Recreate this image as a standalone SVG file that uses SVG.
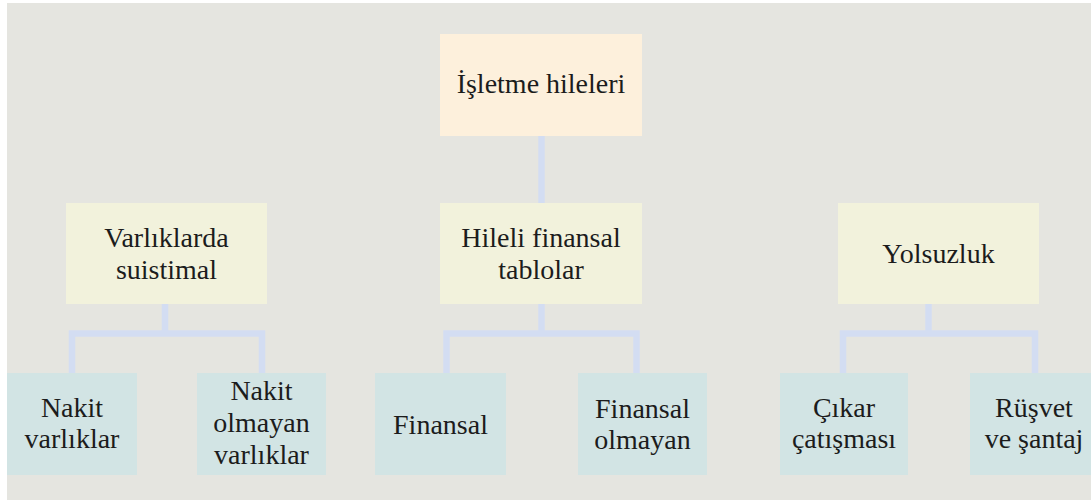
<svg xmlns="http://www.w3.org/2000/svg" width="1091" height="504" viewBox="0 0 1091 504">
  <defs>
    <style>
      .bg { fill: #e5e5e0; }
      .top { fill: #fdf0dc; }
      .mid { fill: #f2f2dc; }
      .bot { fill: #d2e4e4; }
      .conn { fill: none; stroke: #d3ddf2; stroke-width: 6.5; stroke-linejoin: miter; stroke-linecap: butt; }
      text { font-family: "Liberation Serif", "Times New Roman", serif; font-size: 28px; fill: #1c1c1c; text-anchor: middle; }
    </style>
  </defs>
  <rect x="0" y="0" width="1091" height="504" fill="#ffffff"/>
  <rect class="bg" x="7" y="3" width="1084" height="497"/>

  <g id="connectors">
    <path class="conn" d="M541.5,136 V203"/>
    <path class="conn" d="M165,304 V333.5 M72,373 V333.5 H262 V373"/>
    <path class="conn" d="M541.5,304 V333.5 M446.5,373 V333.5 H636.5 V373"/>
    <path class="conn" d="M928.5,304 V333.5 M843,373 V333.5 H1035 V373"/>
  </g>

  <g id="node-isletme-hileleri">
    <rect class="top" x="440" y="34" width="202" height="102"/>
    <text x="541" y="93">İşletme hileleri</text>
  </g>

  <g id="node-varliklarda-suistimal">
    <rect class="mid" x="66" y="203" width="201" height="101"/>
    <text x="166.5" y="247">Varlıklarda</text>
    <text x="166.5" y="279">suistimal</text>
  </g>

  <g id="node-hileli-finansal-tablolar">
    <rect class="mid" x="440" y="203" width="202" height="101"/>
    <text x="541" y="247">Hileli finansal</text>
    <text x="541" y="279">tablolar</text>
  </g>

  <g id="node-yolsuzluk">
    <rect class="mid" x="838" y="203" width="201" height="101"/>
    <text x="938.5" y="263">Yolsuzluk</text>
  </g>

  <g id="node-nakit-varliklar">
    <rect class="bot" x="7" y="373" width="130" height="102"/>
    <text x="72" y="417">Nakit</text>
    <text x="72" y="448">varlıklar</text>
  </g>

  <g id="node-nakit-olmayan-varliklar">
    <rect class="bot" x="197" y="373" width="129" height="102"/>
    <text x="261.5" y="400">Nakit</text>
    <text x="261.5" y="432">olmayan</text>
    <text x="261.5" y="464">varlıklar</text>
  </g>

  <g id="node-finansal">
    <rect class="bot" x="375" y="373" width="131" height="102"/>
    <text x="440.5" y="434">Finansal</text>
  </g>

  <g id="node-finansal-olmayan">
    <rect class="bot" x="578" y="373" width="129" height="102"/>
    <text x="642.5" y="418">Finansal</text>
    <text x="642.5" y="449">olmayan</text>
  </g>

  <g id="node-cikar-catismasi">
    <rect class="bot" x="780" y="373" width="128" height="102"/>
    <text x="844" y="417">Çıkar</text>
    <text x="844" y="448">çatışması</text>
  </g>

  <g id="node-rusvet-ve-santaj">
    <rect class="bot" x="970" y="373" width="129" height="102"/>
    <text x="1034" y="417">Rüşvet</text>
    <text x="1034" y="448">ve şantaj</text>
  </g>
</svg>
